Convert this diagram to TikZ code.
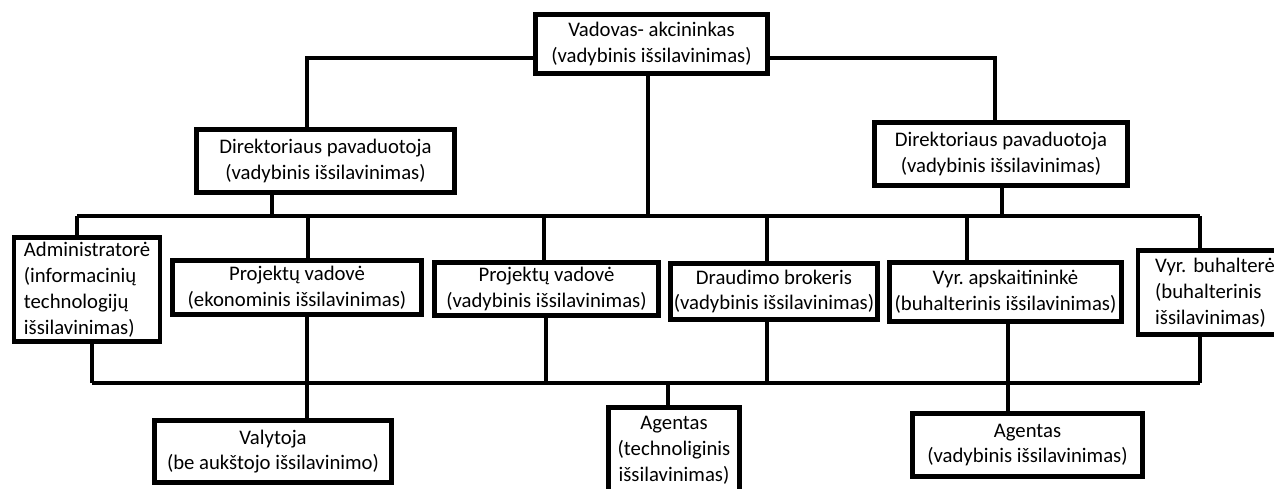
\documentclass[tikz,border=0pt]{standalone}
\usepackage{fontspec}
\setmainfont{Carlito}
\tikzset{
	pareigos/.style={draw, line width=2.6pt, fill=white, align=center, inner sep=1pt,
		font=\fontsize{11.8}{14.7}\selectfont},
	linija/.style={line width=2.6pt},
}
\begin{document}
\begin{tikzpicture}[x=0.02cm, y=-0.02cm]
\useasboundingbox (0,0) rectangle (1274,488);

	%% Vadovybe
	\node[pareigos, minimum width=4.64cm, minimum height=1.18cm] (vad) at (651.5,44) {Vadovas- akcininkas\\(vadybinis išsilavinimas)};
	\node[pareigos, minimum width=5.16cm, minimum height=1.26cm] (dirL) at (325.5,161) {Direktoriaus pavaduotoja\\(vadybinis išsilavinimas)};
	\node[pareigos, minimum width=5.06cm, minimum height=1.26cm] (dirR) at (1001,154) {Direktoriaus pavaduotoja\\(vadybinis išsilavinimas)};

	%% Antras lygis
	\node[pareigos, align=left, minimum width=2.92cm, minimum height=2.08cm] (adm) at (87,289.5) {Administratorė\\(informacinių\\technologijų\\išsilavinimas)};
	\node[pareigos, minimum width=4.98cm, minimum height=1.08cm] (pvE) at (297,287.5) {Projektų vadovė\\(ekonominis išsilavinimas)};
	\node[pareigos, minimum width=4.48cm, minimum height=1.06cm] (pvV) at (546.5,289) {Projektų vadovė\\(vadybinis išsilavinimas)};
	\node[pareigos, minimum width=4.14cm, minimum height=1.12cm] (drau) at (774,291.5) {Draudimo brokeris\\(vadybinis išsilavinimas)};
	\node[pareigos, minimum width=4.64cm, minimum height=1.18cm] (apsk) at (1005.5,292) {Vyr.\ apskaitininkė\\(buhalterinis išsilavinimas)};
	\node[pareigos, align=left, anchor=west, text width=3cm, inner xsep=9.9pt, minimum height=1.68cm] (buh) at (1135.5,292.5) {Vyr.\ buhalterė\\(buhalterinis\\išsilavinimas)};

	%% Apacia
	\node[pareigos, minimum width=4.74cm, minimum height=1.24cm] (valy) at (273,451.5) {Valytoja\\(be aukštojo išsilavinimo)};
	\node[pareigos, minimum width=2.62cm, minimum height=1.70cm] (agT) at (674,450) {Agentas\\(technoliginis\\išsilavinimas)};
	\node[pareigos, minimum width=4.60cm, minimum height=1.26cm] (agV) at (1027.5,445) {Agentas\\(vadybinis išsilavinimas)};
	%%%%%%%%%%%%%%%%

	%% Vadovas -> pavaduotojos
	\coordinate (kL) at (307,58);
	\coordinate (kR) at (995,58);
	\draw[linija] (vad.west |- kL) -- (kL) -- (kL |- dirL.north);
	\draw[linija] (vad.east |- kR) -- (kR) -- (kR |- dirR.north);

	%% Virsutine linija
	\coordinate (u-adm) at (77,216);
	\coordinate (u-dirL) at (272,216);
	\coordinate (u-pvE) at (308,216);
	\coordinate (u-pvV) at (544,216);
	\coordinate (u-vad) at (648,216);
	\coordinate (u-drau) at (767,216);
	\coordinate (u-apsk) at (967,216);
	\coordinate (u-dirR) at (1002,216);
	\coordinate (u-buh) at (1200,216);
	\draw[linija] (u-adm) -- (u-buh);
	\draw[linija] (u-vad |- vad.south) -- (u-vad);
	\draw[linija] (u-dirL |- dirL.south) -- (u-dirL);
	\draw[linija] (u-dirR |- dirR.south) -- (u-dirR);
	\draw[linija] (u-adm) -- (u-adm |- adm.north);
	\draw[linija] (u-pvE) -- (u-pvE |- pvE.north);
	\draw[linija] (u-pvV) -- (u-pvV |- pvV.north);
	\draw[linija] (u-drau) -- (u-drau |- drau.north);
	\draw[linija] (u-apsk) -- (u-apsk |- apsk.north);
	\draw[linija] (u-buh) -- (u-buh |- buh.north);

	%% Apatine linija
	\coordinate (l-adm) at (92,383);
	\coordinate (l-pvE) at (307,383);
	\coordinate (l-pvV) at (546,383);
	\coordinate (l-agT) at (668,383);
	\coordinate (l-drau) at (767,383);
	\coordinate (l-apsk) at (1008,383);
	\coordinate (l-buh) at (1200,383);
	\draw[linija] (l-adm) -- (l-buh);
	\draw[linija] (l-adm |- adm.south) -- (l-adm);
	\draw[linija] (l-pvE |- pvE.south) -- (l-pvE |- valy.north);
	\draw[linija] (l-pvV |- pvV.south) -- (l-pvV);
	\draw[linija] (l-drau |- drau.south) -- (l-drau);
	\draw[linija] (l-apsk |- apsk.south) -- (l-apsk |- agV.north);
	\draw[linija] (l-buh |- buh.south) -- (l-buh);
	\draw[linija] (l-agT) -- (l-agT |- agT.north);
\end{tikzpicture}
\end{document}
